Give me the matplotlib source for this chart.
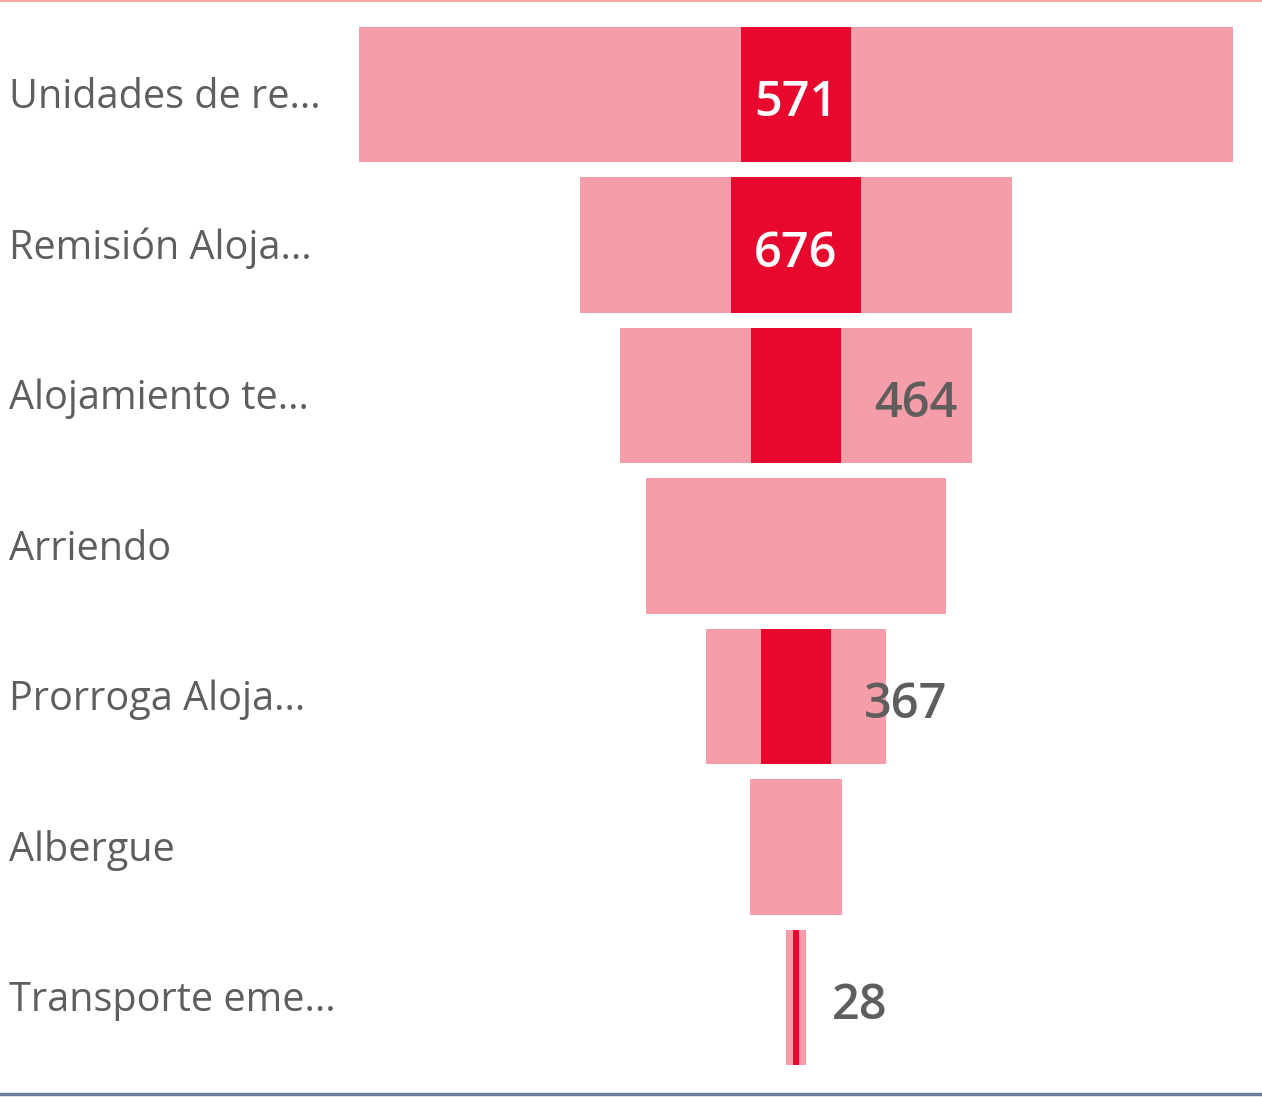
import matplotlib
matplotlib.use('Agg')
import matplotlib.pyplot as plt
from matplotlib.lines import Line2D

categories = ['Unidades de re...', 'Remisión Aloja...', 'Alojamiento te...', 'Arriendo',
              'Prorroga Aloja...', 'Albergue', 'Transporte eme...']
totals = [4540, 2240, 1830, 1555, 940, 473, 99]
highlighted = [571, 676, 464, None, 367, None, 28]

pink = '#F69DAA'
red = '#E8082D'
grey = '#605E5C'

plt.rcParams['font.family'] = ['Open Sans', 'DejaVu Sans']

fig = plt.figure(figsize=(12.62, 11.03), dpi=100)
ax = fig.add_axes([0, 0, 1, 1])
ax.set_axis_off()

# funnel: bars centred on zero
px_per_unit = 0.1925
ax.set_xlim(-796 / px_per_unit, (1262 - 796) / px_per_unit)
pitch = 150.5
ax.set_ylim((1103 - 94.5) / pitch, -94.5 / pitch)

ys = list(range(len(categories)))
ax.barh(ys, totals, left=[-t / 2 for t in totals], height=0.9, color=pink, zorder=2)
for y, v in zip(ys, highlighted):
    if v is None:
        continue
    ax.barh(y, v, left=-v / 2, height=0.9, color=red, zorder=3)
    label = f'{v}'
    if v > 500:
        ax.text(0, y + 0.06, label, ha='center', va='center', color='white',
                fontsize=35, fontweight='semibold', zorder=4)
    else:
        ax.text(v / 2 + 33 / px_per_unit, y + 0.06, label, ha='left', va='center',
                color=grey, fontsize=35, fontweight='semibold', zorder=4)

for y, c in zip(ys, categories):
    ax.text(9 / 1262, 1 - (98 + pitch * y) / 1103, c, transform=fig.transFigure,
            ha='left', va='center', color=grey, fontsize=28.5)

# frame lines top and bottom
fig.add_artist(Line2D([0, 1], [1 - 0.5 / 1103, 1 - 0.5 / 1103], transform=fig.transFigure,
                      color='#F4A79B', lw=1.5))
fig.add_artist(Line2D([0, 1], [1 - 1094 / 1103, 1 - 1094 / 1103], transform=fig.transFigure,
                      color='#6E7F99', lw=2.5))

fig.savefig('out.png', dpi=100)
